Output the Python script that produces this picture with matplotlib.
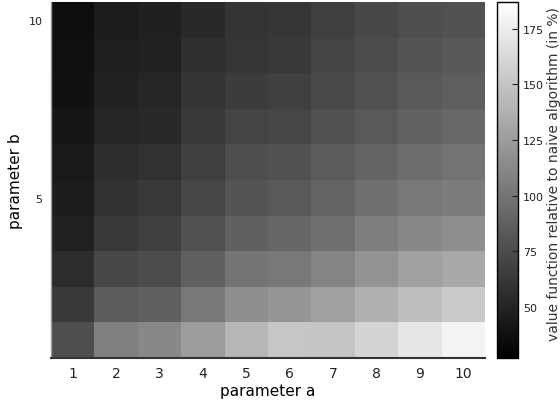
import matplotlib
matplotlib.use("Agg")
import matplotlib.pyplot as plt
import numpy as np

param_a = [1, 2, 3, 4, 5, 6, 7, 8, 9, 10]
param_b = [1, 2, 3, 4, 5, 6, 7, 8, 9, 10]

# rows: parameter b = 1..10, columns: parameter a = 1..10
row_b1 = [76, 107, 112, 125, 141, 151, 150, 160, 171, 179]
row_b2 = [63, 85, 87, 102, 116, 121, 127, 137, 146, 153]
row_b3 = [55, 72, 75, 87, 100, 102, 110, 119, 127, 132]
row_b4 = [48, 63, 67, 77, 87, 91, 97, 106, 112, 116]
row_b5 = [45, 58, 62, 71, 80, 83, 90, 97, 102, 105]
row_b6 = [43, 55, 58, 67, 76, 78, 85, 90, 95, 99]
row_b7 = [41, 51, 53, 62, 70, 71, 77, 83, 88, 92]
row_b8 = [38, 48, 51, 60, 65, 67, 73, 78, 83, 86]
row_b9 = [37, 46, 48, 57, 61, 63, 70, 75, 80, 82]
row_b10 = [36, 45, 47, 53, 60, 61, 67, 72, 76, 78]

values = np.array([row_b1, row_b2, row_b3, row_b4, row_b5,
                   row_b6, row_b7, row_b8, row_b9, row_b10], dtype=float)

vmin, vmax = 27, 187
cbar_ticks = [50, 75, 100, 125, 150, 175]
y_ticks = [5, 10]

fig = plt.figure(figsize=(5.6, 4.02), dpi=100)
ax = fig.add_axes([0.091, 0.107, 0.775, 0.8855])
cax = fig.add_axes([0.8875, 0.107, 0.0375, 0.8855])

im = ax.pcolormesh(np.arange(0.5, 11, 1), np.arange(0.5, 11, 1), values,
                   cmap="gray", vmin=vmin, vmax=vmax)
ax.set_xlim(0.5, 10.5)
ax.set_ylim(0.5, 10.5)
ax.set_xticks(param_a)
ax.set_yticks(y_ticks)
ax.tick_params(axis="x", length=0, labelsize=10, pad=6, colors="#222222")
ax.tick_params(axis="y", length=0, labelsize=8, pad=6, colors="#222222")
for s in ["top", "right"]:
    ax.spines[s].set_visible(False)
ax.spines["left"].set_color("#999999")
ax.spines["left"].set_linewidth(1.0)
ax.spines["bottom"].set_color("#333333")
ax.spines["bottom"].set_linewidth(1.5)
ax.set_xlabel("parameter a", fontsize=11, labelpad=2)
ax.set_ylabel("parameter b", fontsize=11, labelpad=4)

cb = fig.colorbar(im, cax=cax)
cb.set_ticks(cbar_ticks)
cb.ax.tick_params(labelsize=8, direction="in", length=4, colors="#222222")
cb.outline.set_linewidth(1.0)
cb.set_label("value function relative to naive algorithm (in %)", fontsize=10,
             color="#333333", labelpad=2)
cb.ax.yaxis.label.set_y(0.52)

fig.savefig("out.png", dpi=100)
